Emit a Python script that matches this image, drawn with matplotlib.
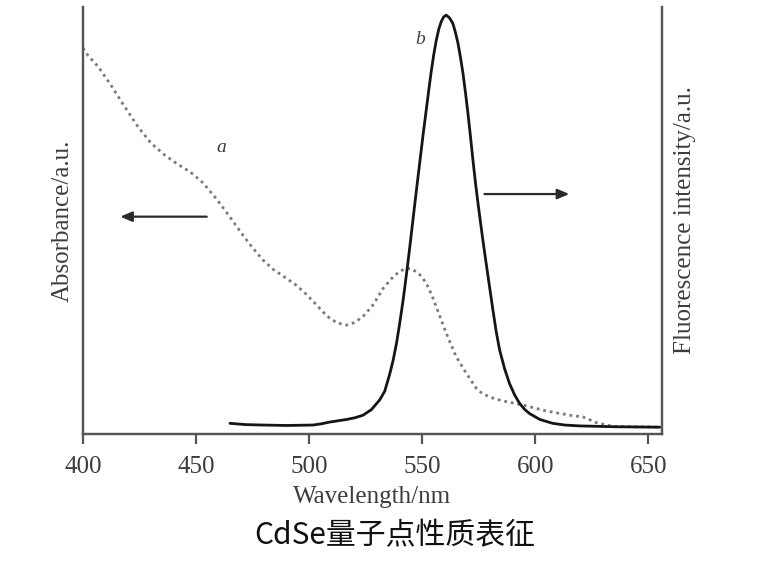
import matplotlib
matplotlib.use("Agg")
import matplotlib.pyplot as plt

# ---- data ----
abs_wl = [400.0, 402.3, 406.8, 412.5, 418.5, 424.4, 430.1, 436.2, 442.1, 447.4,
          453.1, 459.1, 465.0, 470.8, 475.0, 479.7, 484.0, 489.0, 494.4, 499.0,
          503.3, 506.5, 509.1, 512.5, 516.5, 520.0, 523.8, 528.2, 532.7, 537.1,
          540.0, 543.0, 545.0, 547.4, 549.5, 551.8, 554.0, 556.2, 558.4, 560.6,
          565.0, 569.5, 573.9, 576.5, 579.7, 583.0, 587.1, 594.4, 604.8, 616.4,
          621.0, 626.8, 634.0, 655.0]
abs_val = [0.904, 0.886, 0.860, 0.816, 0.766, 0.719, 0.681, 0.653, 0.631, 0.614,
           0.588, 0.550, 0.508, 0.465, 0.436, 0.407, 0.386, 0.368, 0.348, 0.326,
           0.302, 0.284, 0.271, 0.260, 0.255, 0.261, 0.275, 0.302, 0.341, 0.368,
           0.381, 0.388, 0.387, 0.380, 0.370, 0.353, 0.328, 0.298, 0.267, 0.236,
           0.181, 0.142, 0.107, 0.095, 0.087, 0.081, 0.076, 0.068, 0.054, 0.043,
           0.040, 0.027, 0.018, 0.016]

fl_wl = [465.0, 472.0, 479.7, 490.0, 501.7, 505.5, 509.1, 512.8, 516.5, 520.2,
         523.8, 527.5, 531.2, 533.4, 535.6, 537.1, 538.6, 540.0, 541.5, 542.6,
         543.7, 544.8, 545.9, 547.4, 548.9, 550.3, 551.8, 552.9, 554.0, 555.1,
         556.2, 557.3, 558.4, 559.5, 560.6, 562.0, 563.5, 564.6, 565.8, 566.9,
         568.0, 569.1, 570.2, 571.3, 572.4, 573.6, 574.9, 576.6, 578.3, 579.8,
         581.2, 582.7, 584.2, 586.4, 588.6, 590.8, 593.0, 595.2, 597.4, 602.0,
         607.7, 613.0, 619.5, 635.0, 655.0]
fl_val = [0.025, 0.022, 0.021, 0.020, 0.021, 0.024, 0.028, 0.031, 0.034, 0.038,
          0.044, 0.057, 0.080, 0.100, 0.140, 0.172, 0.212, 0.258, 0.312, 0.357,
          0.403, 0.452, 0.502, 0.570, 0.636, 0.698, 0.760, 0.806, 0.850, 0.889,
          0.922, 0.948, 0.966, 0.977, 0.981, 0.975, 0.962, 0.942, 0.915, 0.882,
          0.845, 0.800, 0.751, 0.698, 0.642, 0.585, 0.530, 0.462, 0.398, 0.343,
          0.292, 0.240, 0.197, 0.153, 0.118, 0.092, 0.072, 0.058, 0.048, 0.034,
          0.025, 0.021, 0.019, 0.017, 0.016]

x_ticks = [400, 450, 500, 550, 600, 650]
x_label = "Wavelength/nm"
y_left_label = "Absorbance/a.u."
y_right_label = "Fluorescence intensity/a.u."
caption = "CdSe量子点性质表征"

serif = ["Liberation Serif", "DejaVu Serif"]
txt_col = "#3c3c3c"
spine_col = "#555555"

fig = plt.figure(figsize=(7.74, 5.66), dpi=100)
ax = fig.add_axes([0.1072, 0.2332, 0.7481, 0.7544])
ax2 = ax.twinx()

ax.plot(abs_wl, abs_val, color="#7a7a7a", lw=2.0, linestyle=(0, (1, 1.4)))
ax2.plot(fl_wl, fl_val, color="#151515", lw=2.0, solid_capstyle="round",
         solid_joinstyle="round")

for a in (ax, ax2):
    a.set_xlim(400, 656)
    a.set_ylim(0, 1)
    a.spines["top"].set_visible(False)
    for s in ("left", "right", "bottom"):
        a.spines[s].set_color(spine_col)
        a.spines[s].set_linewidth(1.6)
    a.set_yticks([])

ax.set_xticks(x_ticks)
ax.set_xticklabels([str(t) for t in x_ticks], fontfamily=serif, fontsize=18, color=txt_col)
ax.tick_params(axis="x", direction="out", length=7.2, width=1.6, color=spine_col, pad=8.5)

ax.set_xlabel(x_label, fontfamily=serif, fontsize=18, color=txt_col, labelpad=6)
ax.set_ylabel(y_left_label, fontfamily=serif, fontsize=18, color=txt_col, labelpad=6.5)
ax2.set_ylabel(y_right_label, fontfamily=serif, fontsize=18, color=txt_col,
               rotation=90, labelpad=8.5)

# curve labels
ax.text(461.2, 0.672, "a", fontfamily=serif, fontstyle="italic", fontsize=14,
        color=txt_col, ha="center", va="center")
ax.text(548.9, 0.925, "b", fontfamily=serif, fontstyle="italic", fontsize=14,
        color=txt_col, ha="center", va="center")

# arrows
arrow_kw = dict(arrowstyle="-|>,head_length=0.7,head_width=0.3", color="#2a2a2a", lw=1.6,
                shrinkA=0, shrinkB=0)
ax.annotate("", xy=(416.5, 0.509), xytext=(454.7, 0.509), arrowprops=arrow_kw)
ax.annotate("", xy=(615.0, 0.562), xytext=(577.5, 0.562), arrowprops=arrow_kw)

fig.text(395 / 774, 1 - 536 / 566, caption, fontfamily=["Noto Sans CJK SC", "DejaVu Sans"],
         fontsize=21.5, color="#111111", ha="center", va="center")

fig.savefig("out.png", dpi=100)
